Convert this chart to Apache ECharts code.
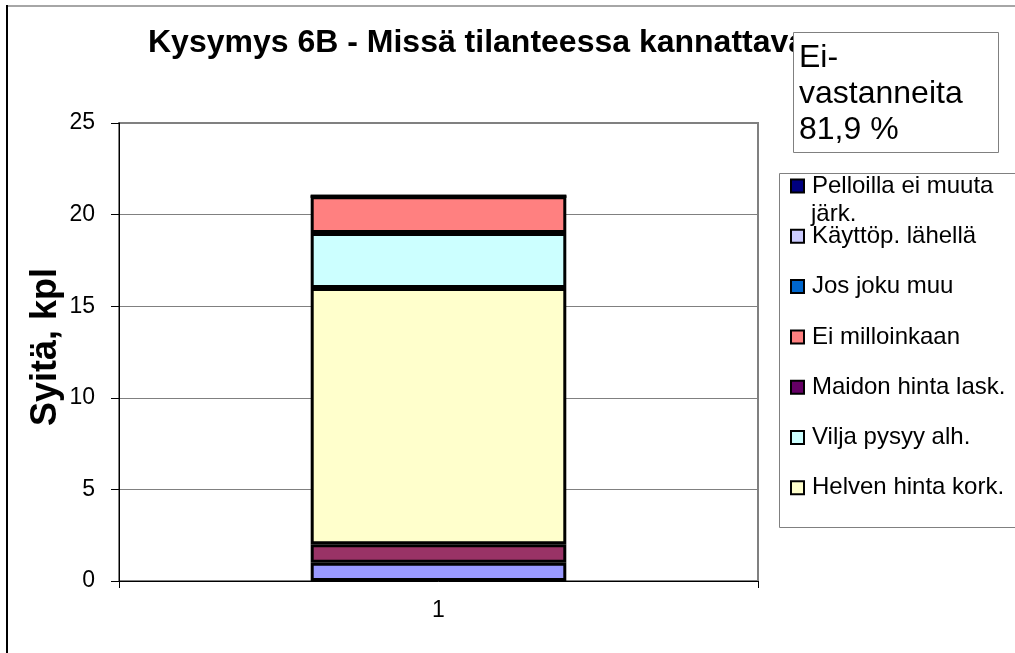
<!DOCTYPE html>
<html>
<head>
<meta charset="utf-8">
<script src="https://cdn.jsdelivr.net/npm/echarts@6/dist/echarts.min.js"></script>
<style>
html,body{margin:0;padding:0;background:#fff;}
#chart{width:1015px;height:653px;}
</style>
</head>
<body>
<div id="chart"></div>
<script>
// ---- data ----
const categories = ['1'];
const kayttopLahella = [1];
const maidonHintaLask = [1];
const helvenHintaKork = [14];
const viljaPysyyAlh = [3];
const eiMilloinkaan = [2];
const josJokuMuu = [0];
const pelloillaEiMuuta = [0];
const yTicks = [0, 5, 10, 15, 20, 25];

const titleText = 'Kysymys 6B - Missä tilanteessa kannattavaa';
const yAxisTitle = 'Syitä, kpl';
const noteText = 'Ei-\nvastanneita\n81,9 %';

// series in stacking order (bottom -> top)
const seriesDefs = [
  {name: 'Käyttöp. lähellä', data: kayttopLahella, color: '#9999FF', legendColor: '#CCCCFF'},
  {name: 'Maidon hinta lask.', data: maidonHintaLask, color: '#993366', legendColor: '#660066'},
  {name: 'Helven hinta kork.', data: helvenHintaKork, color: '#FFFFCC', legendColor: '#FFFFCC'},
  {name: 'Vilja pysyy alh.', data: viljaPysyyAlh, color: '#CCFFFF', legendColor: '#CCFFFF'},
  {name: 'Ei milloinkaan', data: eiMilloinkaan, color: '#FF8080', legendColor: '#FF8080'},
  {name: 'Jos joku muu', data: josJokuMuu, color: '#0066CC', legendColor: '#0066CC'},
  {name: 'Pelloilla ei muuta järk.', data: pelloillaEiMuuta, color: '#000080', legendColor: '#000080'}
];
const legendOrder = ['Pelloilla ei muuta järk.', 'Käyttöp. lähellä', 'Jos joku muu', 'Ei milloinkaan',
  'Maidon hinta lask.', 'Vilja pysyy alh.', 'Helven hinta kork.'];

const FONT = '"Liberation Sans", Arial, sans-serif';

const chart = echarts.init(document.getElementById('chart'), null, {renderer: 'canvas'});

const option = {
  backgroundColor: '#ffffff',
  animation: false,
  textStyle: {fontFamily: FONT},
  title: {
    text: titleText,
    left: 148,
    top: 27,
    padding: 0,
    z: 1,
    textStyle: {fontFamily: FONT, fontSize: 32, fontWeight: 'bold', color: '#000'}
  },
  grid: {
    left: 119, right: 257, top: 123, bottom: 72,
    show: true, borderColor: '#808080', borderWidth: 2, backgroundColor: '#fff'
  },
  legend: {
    orient: 'vertical',
    left: 790,
    top: 174,
    padding: 0,
    itemGap: 26.3,
    itemWidth: 13,
    itemHeight: 13,
    icon: 'rect',
    selectedMode: false,
    textStyle: {fontFamily: FONT, fontSize: 24, color: '#000', lineHeight: 24, padding: [0, 0, 0, 3]},
    itemStyle: {borderColor: '#000', borderWidth: 2},
    formatter: function (n) { return n === 'Pelloilla ei muuta järk.' ? 'Pelloilla ei muuta' : n; },
    data: legendOrder.map(function (n) {
      const d = seriesDefs.find(function (s) { return s.name === n; });
      return {name: n, itemStyle: {color: d.legendColor, borderColor: '#000', borderWidth: 2}};
    })
  },
  xAxis: {
    type: 'category',
    data: categories,
    axisLine: {lineStyle: {color: '#000', width: 1}},
    axisTick: {show: true, length: 7, lineStyle: {color: '#000'}},
    axisLabel: {fontFamily: FONT, fontSize: 23, color: '#000', margin: 18},
    splitLine: {show: false}
  },
  yAxis: {
    type: 'value',
    min: yTicks[0],
    max: yTicks[yTicks.length - 1],
    interval: yTicks[1] - yTicks[0],
    name: yAxisTitle,
    nameLocation: 'middle',
    nameRotate: 90,
    nameGap: 55,
    nameMoveOverlap: false,
    nameTextStyle: {fontFamily: FONT, fontSize: 36, fontWeight: 'bold', color: '#000', padding: [0, 0, 0, 10]},
    axisLine: {show: true, lineStyle: {color: '#000', width: 1}},
    axisTick: {show: true, length: 8, lineStyle: {color: '#000'}},
    axisLabel: {fontFamily: FONT, fontSize: 23, color: '#000', margin: 24},
    splitLine: {show: true, lineStyle: {color: '#808080', width: 1}}
  },
  series: seriesDefs.map(function (s) {
    return {
      name: s.name,
      type: 'bar',
      stack: 'total',
      barWidth: '40%',
      data: s.data,
      itemStyle: {color: s.color, borderColor: '#000', borderWidth: 3},
      emphasis: {disabled: true}
    };
  }),
  graphic: [
    // outer chart-area border (top and left visible)
    {type: 'line', z: 50, shape: {x1: 7, y1: 6, x2: 1015, y2: 6}, style: {stroke: '#a6a6a6', lineWidth: 2}},
    {type: 'line', z: 50, shape: {x1: 7, y1: 5, x2: 7, y2: 653}, style: {stroke: '#000', lineWidth: 2}},
    // legend box
    {type: 'rect', z: -1, shape: {x: 779.5, y: 173.5, width: 260, height: 354}, style: {fill: '#fff', stroke: '#808080', lineWidth: 1}},
    // second line of first legend entry
    {type: 'text', z: 60, left: 811, top: 202, style: {text: 'järk.', font: '24px ' + FONT, fill: '#000'}},
    // note box overlapping the title
    {type: 'rect', z: 100, shape: {x: 793.5, y: 32.5, width: 205, height: 120}, style: {fill: '#fff', stroke: '#808080', lineWidth: 1}},
    {type: 'text', z: 101, left: 799, top: 40, style: {text: noteText, font: '32px ' + FONT, fill: '#000', lineHeight: 36}}
  ]
};
chart.setOption(option);
</script>
</body>
</html>
